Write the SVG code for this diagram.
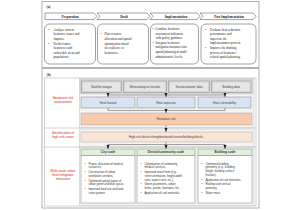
<svg xmlns="http://www.w3.org/2000/svg" width="300" height="210" viewBox="0 0 300 210">
<style>
.frame{fill:#fff;stroke:#7f7f7f;stroke-width:0.6}
.chev{fill:#fff;stroke:#404040;stroke-width:0.5}
.rbox{fill:#fff;stroke:#404040;stroke-width:0.5}
.ser{font-family:"Liberation Serif",serif;fill:#222}
.st{font-size:3.3px;font-weight:bold;text-anchor:middle}
.bt{font-size:3.2px}
.san{font-family:"Liberation Sans",Arial,sans-serif}
.src{fill:#e6e6e6;stroke:#7f7f7f;stroke-width:0.5}
.srci{fill:none;stroke:#bfbfbf;stroke-width:0.4}
.haz{fill:#dae3f3;stroke:#7f7f7f;stroke-width:0.5}
.risk{fill:#f8cbad;stroke:#a6a6a6;stroke-width:0.5}
.hr{fill:#fbe5d6;stroke:#a6a6a6;stroke-width:0.5}
.hd{fill:#e2f0d9;stroke:#7f7f7f;stroke-width:0.5}
.body{fill:#fff;stroke:#7f7f7f;stroke-width:0.5}
.t3{font-size:3px;fill:#404040;text-anchor:middle}
.hdt{font-size:3.1px;font-weight:bold;fill:#333;text-anchor:middle}
.ct{font-size:2.8px;fill:#333}
.red{font-size:3.3px;fill:#e02222;text-anchor:middle}
.sec{fill:#f4f4f4;stroke:#bfbfbf;stroke-width:0.5}
.ln{fill:none;stroke:#222;stroke-width:0.4}
</style>
<defs>
<marker id="ah" viewBox="0 0 4 4" refX="4" refY="2" markerWidth="4" markerHeight="4" markerUnits="userSpaceOnUse" orient="auto">
<path d="M0,0.5 L4,2 L0,3.5 z" fill="#222"/>
</marker>
</defs>

<!-- Panel (a) -->
<g id="panel-a">
<rect class="frame" x="42" y="1.5" width="217" height="66"/>
<text class="ser" x="46.5" y="7.5" font-size="3.4px" font-weight="bold">(a)</text>
</g>
<g id="stage-preparation">
<path class="chev" d="M45,13 H94 L97,16.3 L94,19.6 H45 Z"/>
<text class="ser st" x="70" y="17.5">Preparation</text>
<rect class="rbox" x="44.5" y="24" width="51" height="40" rx="5"/>
<text class="ser bt">
<tspan x="48" y="30.8">•</tspan><tspan x="53.5" y="30.8">Analyze current</tspan>
<tspan x="53.5" y="35.4">heatwave issues and</tspan>
<tspan x="53.5" y="40">impacts.</tspan>
<tspan x="48" y="44.6">•</tspan><tspan x="53.5" y="44.6">Predict future</tspan>
<tspan x="53.5" y="49.2">heatwaves and</tspan>
<tspan x="53.5" y="53.8">vulnerable areas and</tspan>
<tspan x="53.5" y="58.4">populations.</tspan>
</text>
</g>
<g id="stage-draft">
<path class="chev" d="M97,13 H147 L150,16.3 L147,19.6 H97 L100,16.3 Z"/>
<text class="ser st" x="124" y="17.5">Draft</text>
<rect class="rbox" x="97.5" y="24" width="51" height="40" rx="5"/>
<text class="ser bt">
<tspan x="100.5" y="35.4">•</tspan><tspan x="104.5" y="35.4">Plan resource</tspan>
<tspan x="104.5" y="40">allocation and spatial</tspan>
<tspan x="104.5" y="44.6">optimization based</tspan>
<tspan x="104.5" y="49.2">on resilience to</tspan>
<tspan x="104.5" y="53.8">heatwaves.</tspan>
</text>
</g>
<g id="stage-implementation">
<path class="chev" d="M150,13 H197 L200,16.3 L197,19.6 H150 L153,16.3 Z"/>
<text class="ser st" x="176" y="17.5">Implementation</text>
<rect class="rbox" x="150.5" y="24" width="48" height="40" rx="5"/>
<text class="ser bt">
<tspan x="152.5" y="30">•</tspan><tspan x="155.5" y="30">Combine heatwave</tspan>
<tspan x="155.5" y="34.6">assessment indicators</tspan>
<tspan x="155.5" y="39.2">with policy guidance.</tspan>
<tspan x="152.5" y="43.8">•</tspan><tspan x="155.5" y="43.8">Integrate heatwave</tspan>
<tspan x="155.5" y="48.4">mitigation measures into</tspan>
<tspan x="155.5" y="53">spatial planning at multi-</tspan>
<tspan x="155.5" y="57.6">administrative levels.</tspan>
</text>
</g>
<g id="stage-post-implementation">
<path class="chev" d="M200,13 H253 L256,16.3 L253,19.6 H200 L203,16.3 Z"/>
<text class="ser st" x="229" y="17.5">Post-Implementation</text>
<rect class="rbox" x="201" y="24" width="55" height="40" rx="5"/>
<text class="ser bt">
<tspan x="205" y="30.5">•</tspan><tspan x="210" y="30.5">Evaluate heat reduction</tspan>
<tspan x="210" y="35.1">performance and</tspan>
<tspan x="210" y="39.7">supervise the</tspan>
<tspan x="210" y="44.3">implementation process.</tspan>
<tspan x="205" y="48.9">•</tspan><tspan x="210" y="48.9">Improve the drafting</tspan>
<tspan x="210" y="53.5">process of heatwave-</tspan>
<tspan x="210" y="58.1">related spatial planning.</tspan>
</text>
</g>

<!-- Panel (b) -->
<g id="panel-b">
<rect class="frame" x="42" y="68.5" width="217" height="139.5"/>
<text class="ser" x="46.5" y="75.5" font-size="3.4px" font-weight="bold">(b)</text>
<rect x="44.5" y="78" width="211.5" height="128" fill="#fff" stroke="#a6a6a6" stroke-width="0.5"/>
<line x1="44.5" y1="128" x2="256" y2="128" stroke="#a6a6a6" stroke-width="0.5"/>
<line x1="44.5" y1="147" x2="256" y2="147" stroke="#a6a6a6" stroke-width="0.5"/>
<rect class="sec" x="79.5" y="78.5" width="174.5" height="49"/>
<rect class="sec" x="79.5" y="129" width="174.5" height="17.5"/>
<rect class="sec" x="79.5" y="147.5" width="174.5" height="58"/>
<text class="san red"><tspan x="63" y="99">Heatwave risk</tspan><tspan x="63" y="103.2">assessment</tspan></text>
<text class="san red"><tspan x="63" y="134">Identification of</tspan><tspan x="63" y="138.2">high-risk areas</tspan></text>
<text class="san red"><tspan x="63" y="171.5">Multi-scale urban</tspan><tspan x="63" y="175.7">heat mitigation</tspan><tspan x="63" y="179.9">measures</tspan></text>
</g>

<g id="data-band">
<rect x="80" y="79" width="173" height="15" fill="#d9d9d9" stroke="#bfbfbf" stroke-width="0.4"/>
</g>
<g id="satellite-images">
<rect class="src" x="81.5" y="81" width="40" height="11.5"/>
<rect class="srci" x="82.5" y="82" width="38" height="9.5"/>
<text class="san t3" x="101.5" y="87.8">Satellite images</text>
</g>
<g id="meteorological-records">
<rect class="src" x="123.5" y="81" width="43" height="11.5"/>
<rect class="srci" x="124.5" y="82" width="41" height="9.5"/>
<text class="san t3" x="145" y="87.8">Meteorological records</text>
</g>
<g id="socioeconomic-data">
<rect class="src" x="168.5" y="81" width="41" height="11.5"/>
<rect class="srci" x="169.5" y="82" width="39" height="9.5"/>
<text class="san t3" x="189" y="87.8">Socioeconomic data</text>
</g>
<g id="building-data">
<rect class="src" x="211.5" y="81" width="39.5" height="11.5"/>
<rect class="srci" x="212.5" y="82" width="37.5" height="9.5"/>
<text class="san t3" x="231.2" y="87.8">Building data</text>
</g>

<g id="heat-hazard">
<rect class="haz" x="81" y="97" width="54" height="11"/>
<text class="san t3" x="108" y="103.5">Heat hazard</text>
</g>
<g id="heat-exposure">
<rect class="haz" x="137" y="97" width="58" height="11"/>
<text class="san t3" x="166" y="103.5">Heat exposure</text>
</g>
<g id="heat-vulnerability">
<rect class="haz" x="198" y="97" width="53" height="11"/>
<text class="san t3" x="224.5" y="103.5">Heat vulnerability</text>
</g>

<g id="heatwave-risk">
<rect class="risk" x="81" y="113" width="171" height="12"/>
<text class="san t3" x="166" y="120">Heatwave risk</text>
</g>

<g id="high-risk-areas">
<rect class="hr" x="81" y="132" width="171" height="10"/>
<text class="san t3" x="166" y="138">High-risk districts/neighborhoods/streets/building blocks</text>
</g>

<g id="city-scale">
<rect class="hd" x="81" y="149" width="54" height="6.5"/>
<text class="san hdt" x="108" y="153.4">City scale</text>
<rect class="body" x="81" y="155.5" width="54" height="47.5"/>
<text class="san ct">
<tspan x="84.5" y="164.5">•</tspan><tspan x="88.5" y="164.5">Proper allocation of medical</tspan>
<tspan x="88.5" y="168.3">resources,</tspan>
<tspan x="84.5" y="173">•</tspan><tspan x="88.5" y="173">Construction of urban</tspan>
<tspan x="88.5" y="176.8">ventilation corridors,</tspan>
<tspan x="84.5" y="181.5">•</tspan><tspan x="88.5" y="181.5">Optimized spatial layout of</tspan>
<tspan x="88.5" y="185.3">urban green and blue space,</tspan>
<tspan x="84.5" y="190">•</tspan><tspan x="88.5" y="190">Improved land use and land</tspan>
<tspan x="88.5" y="193.8">cover pattern.</tspan>
</text>
</g>
<g id="district-community-scale">
<rect class="hd" x="137" y="149" width="58" height="6.5"/>
<text class="san hdt" x="166" y="153.4">District/community scale</text>
<rect class="body" x="137" y="155.5" width="58" height="47.5"/>
<text class="san ct">
<tspan x="140.5" y="164.5">•</tspan><tspan x="144.5" y="164.5">Optimization of community</tspan>
<tspan x="144.5" y="168.3">medical services,</tspan>
<tspan x="140.5" y="173">•</tspan><tspan x="144.5" y="173">Improved street form (e.g.,</tspan>
<tspan x="144.5" y="176.8">street orientation, height-width</tspan>
<tspan x="144.5" y="180.6">ratio, aspect ratio, etc.),</tspan>
<tspan x="140.5" y="185.3">•</tspan><tspan x="144.5" y="185.3">Green pavements, urban</tspan>
<tspan x="144.5" y="189.1">farms, ponds, fountains, etc.,</tspan>
<tspan x="140.5" y="193.8">•</tspan><tspan x="144.5" y="193.8">Application of cool materials.</tspan>
</text>
</g>
<g id="building-scale">
<rect class="hd" x="198" y="149" width="54" height="6.5"/>
<text class="san hdt" x="225" y="153.4">Building scale</text>
<rect class="body" x="198" y="155.5" width="54" height="47.5"/>
<text class="san ct">
<tspan x="201.5" y="164.5">•</tspan><tspan x="205.5" y="164.5">Optimized building</tspan>
<tspan x="205.5" y="168.3">geometry (e.g., building</tspan>
<tspan x="205.5" y="172.1">height, building surface</tspan>
<tspan x="205.5" y="175.9">fraction),</tspan>
<tspan x="201.5" y="180.6">•</tspan><tspan x="205.5" y="180.6">Application of cool materials,</tspan>
<tspan x="201.5" y="185.3">•</tspan><tspan x="205.5" y="185.3">Rooftop and vertical</tspan>
<tspan x="205.5" y="189.1">greenery,</tspan>
<tspan x="201.5" y="193.8">•</tspan><tspan x="205.5" y="193.8">Water mists.</tspan>
</text>
</g>

<g id="connectors">
<path class="ln" d="M108,95 H225"/>
<path class="ln" d="M108,95 V97" marker-end="url(#ah)"/>
<path class="ln" d="M166,95 V97" marker-end="url(#ah)"/>
<path class="ln" d="M225,95 V97" marker-end="url(#ah)"/>
<path class="ln" d="M108,108 V110.5 H225 V108"/>
<path class="ln" d="M166,110.5 V113" marker-end="url(#ah)"/>
<path class="ln" d="M166,125 V132" marker-end="url(#ah)"/>
<path class="ln" d="M166,142 V144.5"/>
<path class="ln" d="M108,144.5 H225"/>
<path class="ln" d="M108,144.5 V149" marker-end="url(#ah)"/>
<path class="ln" d="M166,144.5 V149" marker-end="url(#ah)"/>
<path class="ln" d="M225,144.5 V149" marker-end="url(#ah)"/>
</g>
</svg>
